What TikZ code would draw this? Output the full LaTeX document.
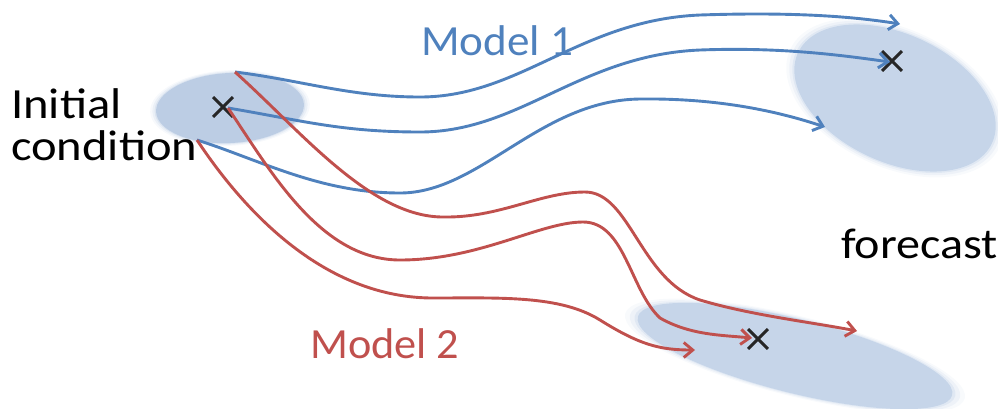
\documentclass[tikz,border=0pt]{standalone}
\usepackage{fontspec}
\setmainfont{Carlito}
\usetikzlibrary{arrows.meta,shapes.misc}
\definecolor{mblue}{RGB}{79,129,189}
\definecolor{mred}{RGB}{192,80,77}
\definecolor{cloud}{RGB}{198,213,233}
\definecolor{cloudl}{RGB}{188,205,228}
\begin{document}
\begin{tikzpicture}[x=1pt,y=-1pt,
  lbl/.style={inner sep=0pt, font=\fontsize{43pt}{48pt}\selectfont},
  blueline/.style={draw=mblue, line width=2.9pt, -{Straight Barb[length=9pt,width=15pt]}},
  redline/.style={draw=mred, line width=2.9pt, -{Straight Barb[length=9pt,width=15pt]}},
  crossmark/.style={cross out, draw=black!85, line width=2.9pt, minimum size=17pt, inner sep=0pt},
]
\useasboundingbox (0,0) rectangle (998,408);
% soft clouds
\foreach \s/\o in {1.08/0.12,1.05/0.2,1.02/0.35,1.0/1}{
  \fill[cloudl, opacity=\o, rotate around={3:(230,108)}] (230,108) ellipse [x radius={74pt*\s}, y radius={35pt*\s}];
  \fill[cloud, opacity=\o, rotate around={-25:(895,98)}] (895,98) ellipse [x radius={107pt*\s}, y radius={64pt*\s}];
  \fill[cloud, opacity=\o, rotate around={-14:(795,356)}] (795,356) ellipse [x radius={162pt*\s}, y radius={37pt*\s}];
}
% crosses
\node[crossmark] (xa) at (223,107) {};
\node[crossmark] (xb) at (892,61) {};
\node[crossmark] (xc) at (758,339) {};
% start / end points
\coordinate (sa) at (235,72);
\coordinate (sb) at (228,108);
\coordinate (sc) at (197,140);
\coordinate (eb1) at (900,24);
\coordinate (eb2) at (890,62);
\coordinate (eb3) at (825,127);
\coordinate (er1) at (857,331);
\coordinate (er2) at (752,338);
\coordinate (er3) at (695,350);
% Model 1 (blue)
\draw[blueline] (sa) .. controls (300,80) and (350,97) .. (420,97)
  .. controls (520,97) and (580,20) .. (700,15)
  .. controls (790,12) and (850,16) .. (eb1);
\draw[blueline] (sb) .. controls (300,120) and (340,132) .. (420,132)
  .. controls (520,132) and (580,55) .. (700,50)
  .. controls (780,47) and (840,55) .. (eb2);
\draw[blueline] (sc) .. controls (260,160) and (320,193) .. (400,193)
  .. controls (480,193) and (540,100) .. (640,99)
  .. controls (720,98) and (780,112) .. (eb3);
% Model 2 (red)
\draw[redline] (sa) .. controls (300,130) and (370,217) .. (443,217)
  .. controls (500,218) and (540,192) .. (585,192)
  .. controls (630,192) and (640,280) .. (700,300)
  .. controls (750,315) and (810,322) .. (er1);
\draw[redline] (sb) .. controls (270,170) and (320,260) .. (400,260)
  .. controls (480,260) and (540,222) .. (583,222)
  .. controls (625,222) and (630,290) .. (660,318)
  .. controls (690,335) and (720,335) .. (er2);
\draw[redline] (sc) .. controls (250,220) and (330,298) .. (433,298)
  .. controls (500,298) and (560,295) .. (600,320)
  .. controls (640,345) and (660,350) .. (er3);
% labels
\node[lbl, anchor=base west] (ic1) at (11,118) {\scalebox{1.13}[1]{Initial}};
\node[lbl, anchor=base west] (ic2) at (11,160) {\scalebox{1.13}[1]{condition}};
\node[lbl, anchor=base west] (fc) at (841,258) {\scalebox{1.12}[1]{forecast}};
\node[lbl, text=mblue, anchor=base west] (m1) at (421,55) {\scalebox{1.05}[1]{Model 1}};
\node[lbl, text=mred, anchor=base west] (m2) at (310,358) {\scalebox{1.03}[1]{Model 2}};
\end{tikzpicture}
\end{document}
